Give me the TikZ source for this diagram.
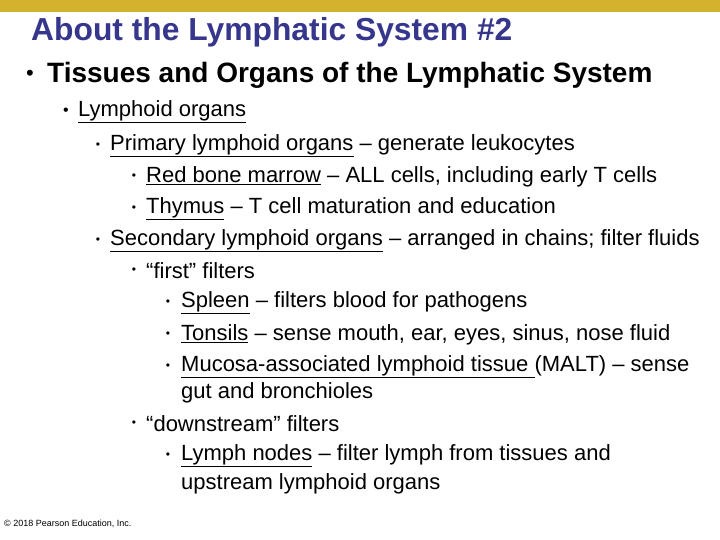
\documentclass[tikz,border=0pt]{standalone}
\usepackage{fontspec}
\setmainfont{Liberation Sans}
\definecolor{barc}{HTML}{D4B22E}
\definecolor{titc}{HTML}{36378C}
\begin{document}
\begin{tikzpicture}[x=1pt,y=-1pt,
 txt/.style={anchor=west,inner sep=0pt,font=\fontsize{22}{26}\selectfont},
 bul/.style={anchor=center,inner sep=0pt,font=\fontsize{12}{14}\selectfont}]
\useasboundingbox (0,0) rectangle (720,540);
\fill[barc] (0,0) rectangle (720,12);
\node[anchor=west,inner sep=0pt,text=titc,font=\bfseries\fontsize{31.8}{36}\selectfont] (title) at (31,32) {About the Lymphatic System \#2};
\node[anchor=center,inner sep=0pt,font=\fontsize{22}{24}\selectfont] (b1) at (30,75) {•};
\node[txt,font=\bfseries\fontsize{28}{32}\selectfont] (t1) at (47,75) {Tissues and Organs of the Lymphatic System};
\node[bul,font=\fontsize{16}{18}\selectfont] (b2) at (66,112) {•};
\node[txt] (t2) at (78,112) {\underline{Lymphoid organs}};
\node[bul] (b3) at (98,146) {•};
\node[txt] (t3) at (110,146) {\underline{Primary lymphoid organs} – generate leukocytes};
\node[bul] (b4) at (134,177) {•};
\node[txt] (t4) at (146,177) {\underline{Red bone marrow} – ALL cells, including early T cells};
\node[bul] (b5) at (134,209) {•};
\node[txt] (t5) at (146,209) {\underline{Thymus} – T cell maturation and education};
\node[bul] (b6) at (98,241) {•};
\node[txt] (t6) at (110,241) {\underline{Secondary lymphoid organs} – arranged in chains; filter fluids};
\node[bul] (b7) at (134,271) {•};
\node[txt] (t7) at (146,271) {“first” filters};
\node[bul] (b8) at (168,303) {•};
\node[txt] (t8) at (181,303) {\underline{Spleen} – filters blood for pathogens};
\node[bul] (b9) at (168,335) {•};
\node[txt] (t9) at (181,335) {\underline{Tonsils} – sense mouth, ear, eyes, sinus, nose fluid};
\node[bul] (b10) at (168,367) {•};
\node[txt] (t10) at (181,367) {\underline{Mucosa-associated lymphoid tissue }(MALT) – sense};
\node[txt] (t11) at (181,393) {gut and bronchioles};
\node[bul] (b12) at (134,424) {•};
\node[txt] (t12) at (146,424) {“downstream” filters};
\node[bul] (b13) at (168,456) {•};
\node[txt] (t13) at (181,456) {\underline{Lymph nodes} – filter lymph from tissues and};
\node[txt] (t14) at (181,484) {upstream lymphoid organs};
\node[anchor=west,inner sep=0pt,font=\fontsize{9}{11}\selectfont] (copy) at (4,524) {© 2018 Pearson Education, Inc.};
\end{tikzpicture}
\end{document}
